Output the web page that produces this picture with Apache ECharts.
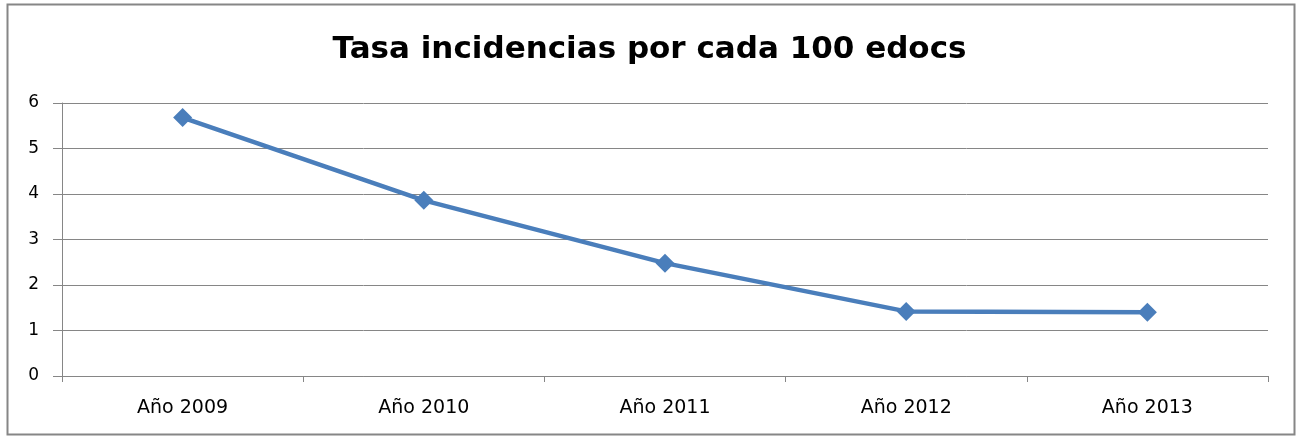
<!DOCTYPE html>
<html>
<head>
<meta charset="utf-8">
<script src="https://cdn.jsdelivr.net/npm/echarts@6/dist/echarts.min.js"></script>
<style>
  html, body { margin: 0; padding: 0; background: #fff; }
  #chart { width: 1299px; height: 437px; }
</style>
</head>
<body>
<div id="chart"></div>
<script>
  var categories = ['Año 2009', 'Año 2010', 'Año 2011', 'Año 2012', 'Año 2013'];
  var tasa = [5.68, 3.86, 2.48, 1.42, 1.40];
  var yTicks = [0, 6, 1]; // min, max, interval

  var chart = echarts.init(document.getElementById('chart'));

  var option = {
    backgroundColor: '#fff',
    animation: false,
    title: {
      text: 'Tasa incidencias por cada 100 edocs',
      left: 'center',
      top: 29,
      textStyle: {
        fontFamily: 'DejaVu Sans',
        fontWeight: 'bold',
        fontSize: 31,
        color: '#000'
      }
    },
    graphic: [{
      type: 'rect',
      shape: { x: 7.5, y: 4.5, width: 1287, height: 430 },
      style: { fill: null, stroke: '#868686', lineWidth: 2 },
      silent: true
    }],
    grid: { left: 62, right: 31, top: 103, bottom: 61 },
    xAxis: {
      type: 'category',
      data: categories,
      boundaryGap: true,
      axisLine: { lineStyle: { color: '#868686', width: 1 } },
      axisTick: { show: true, length: 6, lineStyle: { color: '#868686' } },
      axisLabel: { color: '#000', fontFamily: 'DejaVu Sans', fontSize: 19, margin: 23 }
    },
    yAxis: {
      type: 'value',
      min: yTicks[0],
      max: yTicks[1],
      interval: yTicks[2],
      axisLine: { show: true, lineStyle: { color: '#868686', width: 1 } },
      axisTick: { show: true, length: 9, inside: false, lineStyle: { color: '#868686' } },
      splitLine: { lineStyle: { color: '#868686', width: 1 } },
      axisLabel: { color: '#000', fontFamily: 'DejaVu Sans', fontSize: 17, margin: 23 }
    },
    series: [{
      type: 'line',
      data: tasa,
      symbol: 'diamond',
      symbolSize: 19,
      lineStyle: { color: '#4a7ebb', width: 4.5 },
      itemStyle: { color: '#4a7ebb' }
    }]
  };

  chart.setOption(option);
</script>
</body>
</html>
